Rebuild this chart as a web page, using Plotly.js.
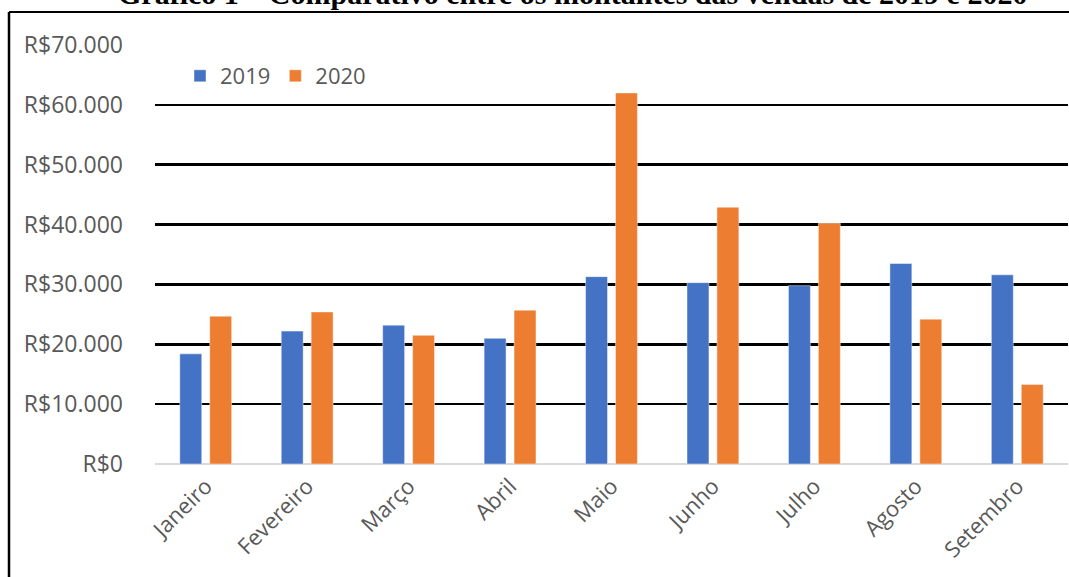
<!DOCTYPE html>
<html>
<head>
<meta charset="utf-8">
<script src="https://cdn.plot.ly/plotly-3.0.1.min.js"></script>
<style>
html,body{margin:0;padding:0;background:#fff;}
#chart{width:1069px;height:577px;}
</style>
</head>
<body>
<div id="chart"></div>
<script>
var categories = ["Janeiro","Fevereiro","Março","Abril","Maio","Junho","Julho","Agosto","Setembro"];
var seriesNames = ["2019","2020"];
var values2019 = [18400, 22200, 23200, 21000, 31300, 30300, 29800, 33500, 31600];
var values2020 = [24700, 25400, 21500, 25700, 62000, 42900, 40200, 24200, 13300];
var tickValues = [0,10000,20000,30000,40000,50000,60000,70000];
var tickLabels = ["R$0","R$10.000","R$20.000","R$30.000","R$40.000","R$50.000","R$60.000","R$70.000"];
var titleText = "Gráfico 1 – Comparativo entre os montantes das vendas de 2019 e 2020";

var W = 1069, H = 577;
var mL = 155, mR = 1, mT = 45, mB = 113;
var pw = W - mL - mR, ph = H - mT - mB;
function px(x){ return (x - mL) / pw; }
function py(y){ return (H - mB - y) / ph; }

var traces = [
  {type:"bar", name:seriesNames[0], x:categories, y:values2019,
   marker:{color:"#4472C4", line:{color:"rgba(255,255,255,0.45)", width:1}}},
  {type:"bar", name:seriesNames[1], x:categories, y:values2020,
   marker:{color:"#ED7D31", line:{color:"rgba(255,255,255,0.45)", width:1}}}
];

var layout = {
  width:W, height:H,
  margin:{l:mL, r:mR, t:mT, b:mB, pad:0},
  paper_bgcolor:"#fff", plot_bgcolor:"#fff",
  barmode:"group", bargap:0.41, bargroupgap:0.267,
  showlegend:true,
  legend:{orientation:"h", x:px(180), y:py(76), xanchor:"left", yanchor:"middle",
          font:{family:"Open Sans, sans-serif", size:22, color:"#595959"},
          bgcolor:"rgba(0,0,0,0)", itemwidth:30, tracegroupgap:0},
  xaxis:{type:"category", tickangle:-45, showgrid:false, zeroline:false, showline:false,
         ticks:"", ticklabelstandoff:4,
         tickfont:{family:"Open Sans, sans-serif", size:22, color:"#595959"},
         fixedrange:true},
  yaxis:{range:[0,70000], tickmode:"array", tickvals:tickValues, ticktext:tickLabels,
         showgrid:true, gridcolor:"#000", gridwidth:2.5,
         zeroline:true, zerolinecolor:"#D9D9D9", zerolinewidth:2.5,
         showline:false, ticks:"", ticklabelstandoff:31,
         tickfont:{family:"Open Sans, sans-serif", size:23, color:"#595959"},
         fixedrange:true},
  annotations:[
    {text:"<b>"+titleText+"</b>", xref:"paper", yref:"paper",
     x:px(572), y:py(-7), xanchor:"center", yanchor:"middle", showarrow:false,
     font:{family:"Liberation Serif, Times New Roman, serif", size:30, color:"#000"}}
  ],
  shapes:[
    {type:"line", xref:"paper", yref:"paper", x0:px(9), x1:px(9), y0:py(12), y1:py(580),
     line:{color:"#000", width:2.5}},
    {type:"line", xref:"paper", yref:"paper", x0:px(9), x1:px(1072), y0:py(12), y1:py(12),
     line:{color:"#000", width:2}}
  ]
};

Plotly.newPlot("chart", traces, layout, {displayModeBar:false, staticPlot:true});
</script>
</body>
</html>
